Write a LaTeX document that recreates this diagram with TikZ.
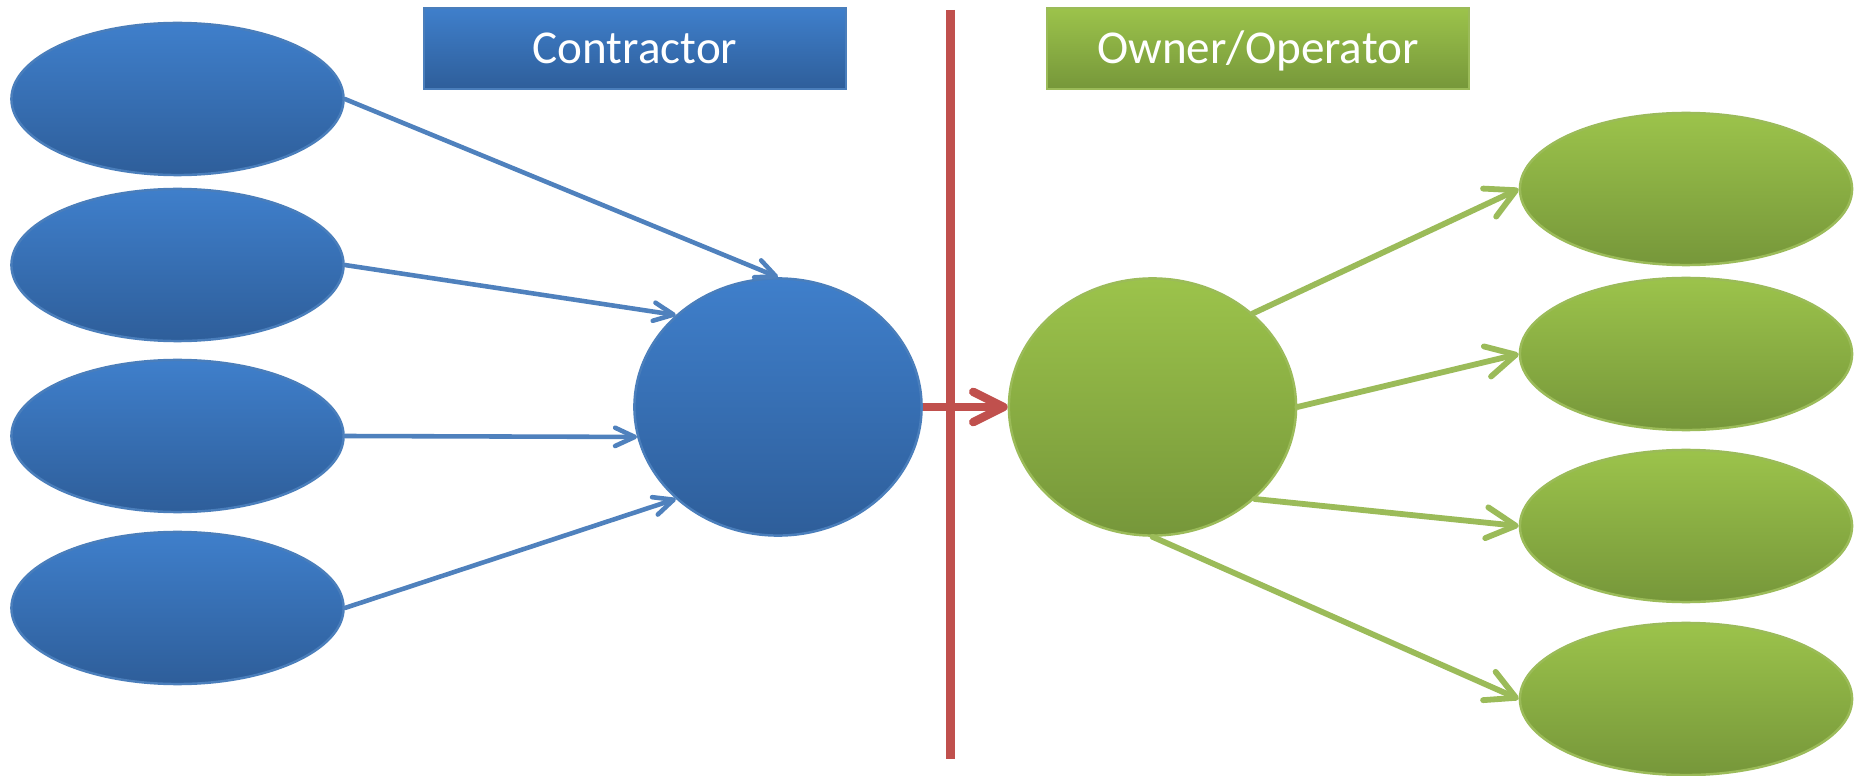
\documentclass[tikz,border=0pt]{standalone}
\usepackage{fontspec}
\setmainfont{Carlito}
\usetikzlibrary{arrows.meta,shapes.geometric}
\definecolor{bTop}{HTML}{3F7FCB}
\definecolor{bBot}{HTML}{2E5E9A}
\definecolor{bLine}{HTML}{4A7EBB}
\definecolor{bArrow}{HTML}{4F81BD}
\definecolor{gTop}{HTML}{9CC34B}
\definecolor{gBot}{HTML}{76973A}
\definecolor{gLine}{HTML}{9BBB59}
\definecolor{rLine}{HTML}{C0504D}
\begin{document}
\begin{tikzpicture}[x=0.01cm,y=-0.01cm,
  bluefill/.style={top color=bTop,bottom color=bBot,draw=bLine,line width=0.7pt},
  greenfill/.style={top color=gTop,bottom color=gBot,draw=gLine,line width=0.7pt},
  oval/.style={ellipse,inner sep=0pt,minimum width=3.32cm,minimum height=1.52cm},
  hub/.style={ellipse,inner sep=0pt,minimum width=2.87cm,minimum height=2.57cm},
  labelbox/.style={rectangle,inner sep=0pt,minimum width=4.22cm,minimum height=0.81cm,
    text=white,font=\fontsize{13.4pt}{16pt}\selectfont,text height=8.5pt,text depth=0pt},
  bluearrow/.style={draw=bArrow,line width=1.3pt,line cap=round,
    -{Straight Barb[length=5.6pt,width=5.2pt,round]}},
  greenarrow/.style={draw=gLine,line width=1.65pt,line cap=round,
    -{Straight Barb[length=8.3pt,width=8.8pt,round]}},
  redarrow/.style={draw=rLine,line width=2.4pt,
    -{Straight Barb[length=8.6pt,width=8.6pt,round]}},
  redline/.style={draw=rLine,line width=2.45pt}
]
\path[use as bounding box,fill=white] (0,0) rectangle (1862,776);

% left (contractor) side
\node[oval,bluefill] (l1) at (177.5,99) {};
\node[oval,bluefill] (l2) at (177.5,265) {};
\node[oval,bluefill] (l3) at (177.5,436) {};
\node[oval,bluefill] (l4) at (177.5,608) {};
\node[hub,bluefill] (bc) at (778,407) {};

% right (owner) side
\node[hub,greenfill] (gc) at (1152.5,407) {};
\node[oval,greenfill] (r1) at (1686,189) {};
\node[oval,greenfill] (r2) at (1686,354) {};
\node[oval,greenfill] (r3) at (1686,526) {};
\node[oval,greenfill] (r4) at (1686,699) {};

% headers
\node[labelbox,bluefill] (contractor) at (635,48.5) {Contractor};
\node[labelbox,greenfill] (owner) at (1258,48.5) {Owner/Operator};

% divider
\coordinate (dtop) at (950.5,10);
\coordinate (dbot) at (950.5,759);
\draw[redline] (dtop) -- (dbot);

% connectors
\draw[bluearrow] (l1.east) -- (bc.north);
\draw[bluearrow] (l2.east) -- (bc.138);
\draw[bluearrow] (l3.east) -- (bc.192);
\draw[bluearrow] (l4.east) -- (bc.222);
\draw[redarrow] (bc.east) -- (gc.west);
\draw[greenarrow] (gc.43) -- (r1.west);
\draw[greenarrow] (gc.east) -- (r2.west);
\draw[greenarrow] (gc.-42) -- (r3.west);
\draw[greenarrow] (gc.south) -- (r4.west);
\end{tikzpicture}
\end{document}
